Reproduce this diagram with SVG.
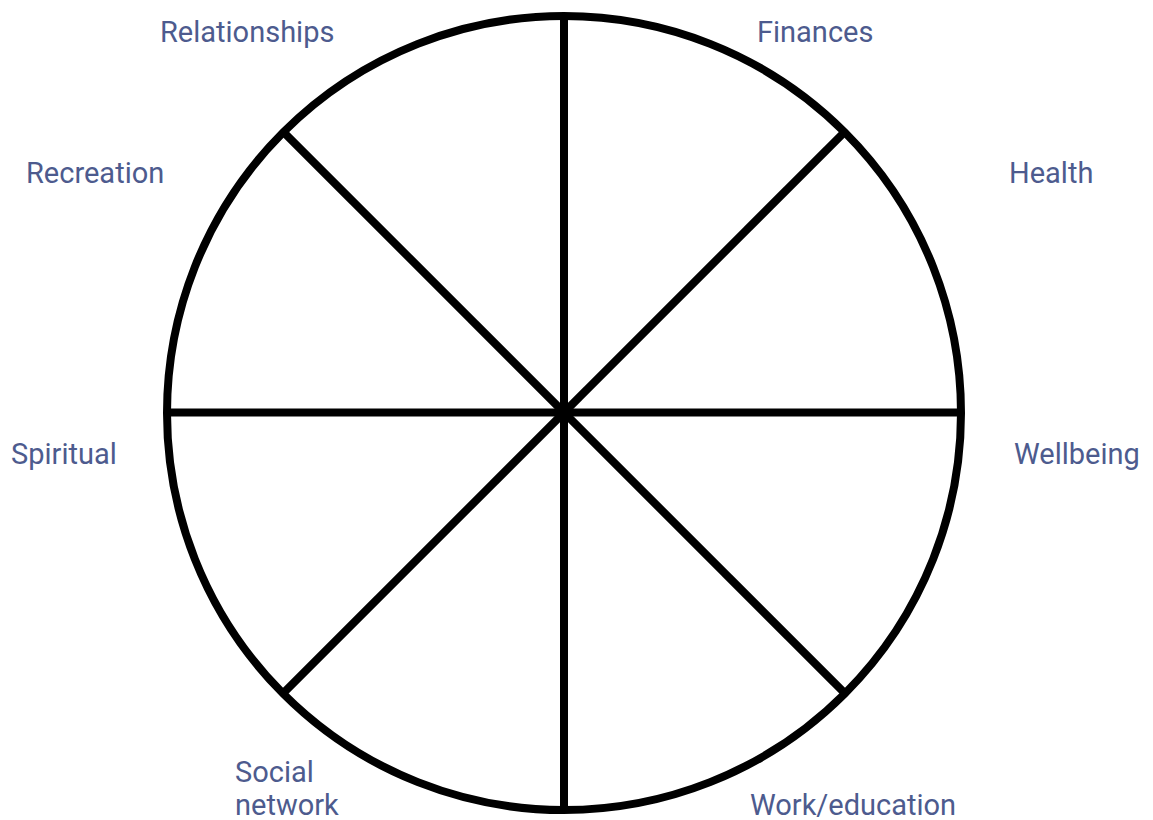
<svg xmlns="http://www.w3.org/2000/svg" width="1153" height="820" viewBox="0 0 1153 820">
<style>
.lbl{font-family:Roboto,"Liberation Sans",sans-serif;font-size:29px;fill:#4d5b8e}
.ln{stroke:#000;stroke-width:8;fill:none}
</style>
<rect width="1153" height="820" fill="#fff"/>
<g id="connectors">
<line class="ln" x1="564" y1="16" x2="564" y2="810"/>
<line class="ln" x1="166" y1="412.5" x2="962" y2="412.5"/>
<line class="ln" x1="283.3" y1="131.8" x2="844.7" y2="693.2"/>
<line class="ln" x1="844.7" y1="131.8" x2="283.3" y2="693.2"/>
</g>
<g id="wheel"><circle class="ln" cx="564" cy="413" r="397"/></g>
<g id="relationships"><text class="lbl" x="160" y="42">Relationships</text></g>
<g id="finances"><text class="lbl" x="757" y="42">Finances</text></g>
<g id="recreation"><text class="lbl" x="26" y="183">Recreation</text></g>
<g id="health"><text class="lbl" x="1009" y="183">Health</text></g>
<g id="spiritual"><text class="lbl" x="11" y="464">Spiritual</text></g>
<g id="wellbeing"><text class="lbl" x="1014" y="464">Wellbeing</text></g>
<g id="social"><text class="lbl" x="235" y="782">Social</text><text class="lbl" x="235" y="815">network</text></g>
<g id="work"><text class="lbl" x="750" y="815">Work/education</text></g>
</svg>
